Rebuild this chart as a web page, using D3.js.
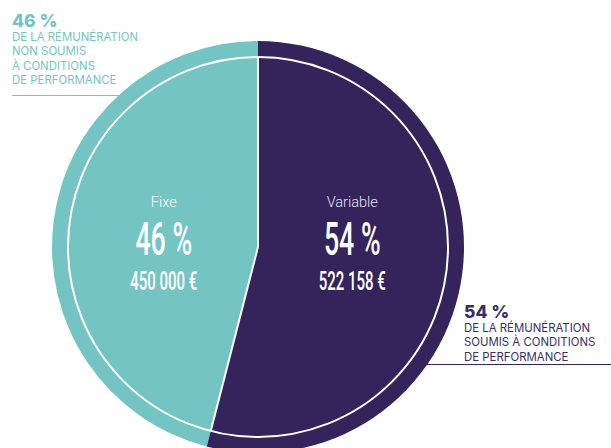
<!DOCTYPE html>
<html>
<head>
<meta charset="utf-8">
<script src="https://cdn.jsdelivr.net/npm/d3@7"></script>
<style>
  html, body { margin: 0; padding: 0; background: #fff; }
  svg { display: block; }
</style>
</head>
<body>
<div id="chart"></div>
<script>
const categories = ['Fixe', 'Variable'];
const percents = [46, 54];
const amounts = [450000, 522158];
const colors = ['#74c4c4', '#35245c'];
const notesFixe = ['DE LA RÉMUNÉRATION', 'NON SOUMIS', 'À CONDITIONS', 'DE PERFORMANCE'];
const notesVariable = ['DE LA RÉMUNÉRATION', 'SOUMIS À CONDITIONS', 'DE PERFORMANCE'];

const width = 611;
const height = 448;
const cx = 258, cy = 247;
const outerR = 206, innerR = 190;

const svg = d3.select('#chart')
  .append('svg')
  .attr('width', width)
  .attr('height', height);

const fmtAmount = v => d3.format(',')(v).replace(/,/g, ' ') + ' €';
const fmtPct = v => v + ' %';

// annotation rules (drawn first, the pie covers their inner end)
svg.append('line')
  .attr('x1', 12).attr('x2', cx)
  .attr('y1', 95.5).attr('y2', 95.5)
  .attr('stroke', colors[0]).attr('stroke-width', 1.2);

svg.append('line')
  .attr('x1', cx).attr('x2', width)
  .attr('y1', 364.5).attr('y2', 364.5)
  .attr('stroke', colors[1]).attr('stroke-width', 1.2);

const start = -2 * Math.PI * percents[0] / 100;
const pie = d3.pie().sort(null).value(d => d)
  .startAngle(start).endAngle(start + 2 * Math.PI);
const arcs = pie(percents);

const g = svg.append('g').attr('transform', `translate(${cx},${cy})`);

const arc = d3.arc().innerRadius(0).outerRadius(outerR);
g.selectAll('path.slice')
  .data(arcs)
  .enter()
  .append('path')
  .attr('class', 'slice')
  .attr('d', arc)
  .attr('fill', (d, i) => colors[i]);

// white inner circle and separators
g.append('circle')
  .attr('r', innerR)
  .attr('fill', 'none')
  .attr('stroke', '#fff')
  .attr('stroke-width', 2);

g.selectAll('line.sep')
  .data(arcs)
  .enter()
  .append('line')
  .attr('class', 'sep')
  .attr('x1', 0).attr('y1', 0)
  .attr('x2', d => innerR * Math.sin(d.startAngle))
  .attr('y2', d => -innerR * Math.cos(d.startAngle))
  .attr('stroke', '#fff')
  .attr('stroke-width', 2);

// labels inside slices
const labelArc = d3.arc().innerRadius(0).outerRadius(innerR);
const labels = g.selectAll('g.label')
  .data(arcs)
  .enter()
  .append('g')
  .attr('class', 'label')
  .attr('transform', d => `translate(${labelArc.centroid(d)[0]},0)`);

labels.append('text')
  .attr('y', -40)
  .attr('text-anchor', 'middle')
  .attr('fill', (d, i) => i === 0 ? '#fff' : '#e6e2ee')
  .style('font-family', 'Roboto, sans-serif')
  .style('font-weight', 300)
  .style('font-size', '14.5px')
  .text((d, i) => categories[i]);

labels.append('text')
  .attr('transform', 'translate(0,8) scale(0.58,1)')
  .attr('text-anchor', 'middle')
  .attr('fill', '#fff')
  .style('font-family', 'Roboto, sans-serif')
  .style('font-weight', 500)
  .style('font-size', '46px')
  .text((d, i) => fmtPct(percents[i]));

labels.append('text')
  .attr('transform', 'translate(0,43) scale(0.6,1)')
  .attr('text-anchor', 'middle')
  .attr('fill', '#fff')
  .style('font-family', 'Roboto, sans-serif')
  .style('font-weight', 500)
  .style('font-size', '25px')
  .text((d, i) => fmtAmount(amounts[i]));

// annotations
function note(x, y, pct, lines, color) {
  const t = svg.append('g').attr('transform', `translate(${x},${y})`);
  t.append('text')
    .attr('fill', color)
    .style('font-family', 'Inter, sans-serif')
    .style('font-weight', 800)
    .style('font-size', '17.5px')
    .text(fmtPct(pct));
  t.selectAll('text.line')
    .data(lines)
    .enter()
    .append('text')
    .attr('class', 'line')
    .attr('y', (d, i) => 14 + i * 14.3)
    .attr('fill', color)
    .style('font-family', 'Inter, sans-serif')
    .style('font-size', '11.4px')
    .text(d => d);
}

note(12, 27, percents[0], notesFixe, colors[0]);
note(464, 318, percents[1], notesVariable, '#3b2e68');
</script>
</body>
</html>
